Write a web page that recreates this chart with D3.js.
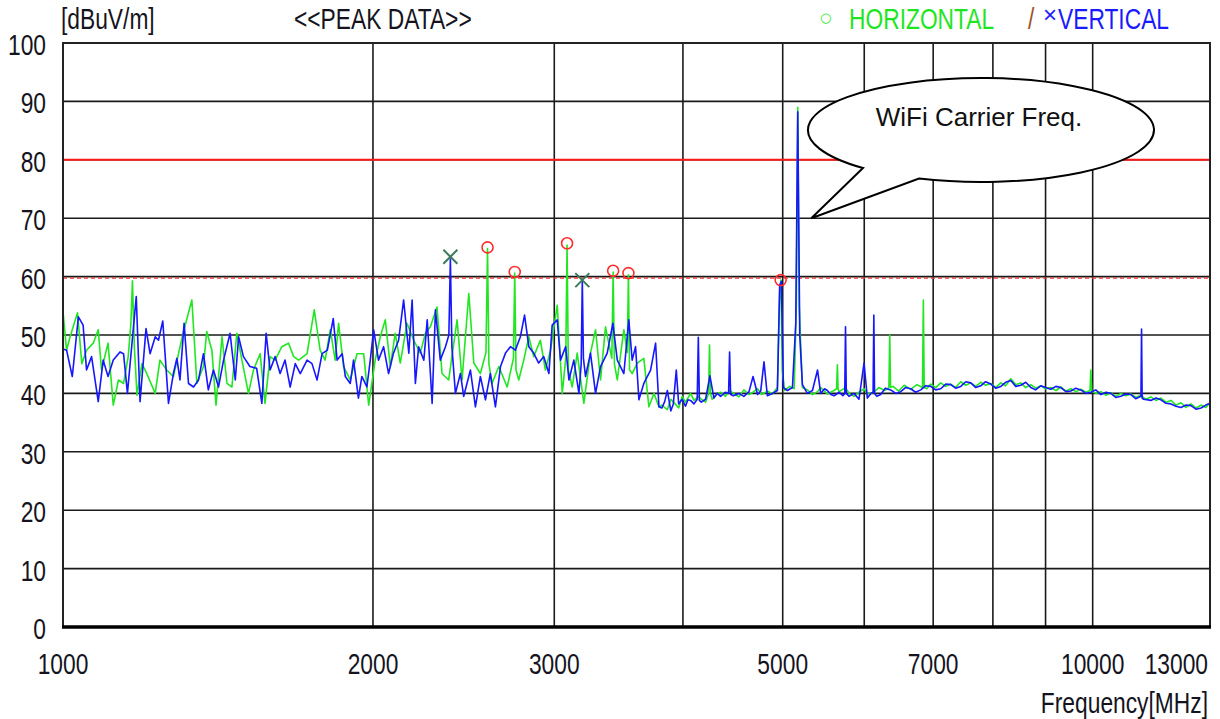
<!DOCTYPE html>
<html>
<head>
<meta charset="utf-8">
<script src="https://cdn.jsdelivr.net/npm/d3@7"></script>
<style>
  body { margin: 0; background: #fff; }
  svg { display: block; }
  text { font-family: "Liberation Sans", Arial, sans-serif; }
</style>
</head>
<body>
<svg width="1220" height="719"></svg>
<script>
// frequency ticks and level ticks
var xTicks = [1000, 2000, 3000, 5000, 7000, 10000, 13000];
var xGrid = [2000, 3000, 4000, 5000, 6000, 7000, 8000, 9000, 10000];
var yTicks = [0, 10, 20, 30, 40, 50, 60, 70, 80, 90, 100];
var limitLine = 80;   // solid red
var marginLine = 60;  // dashed red

// HORIZONTAL trace [MHz, dBuV/m]
var hTrace = [
  [1000, 54.0], [1008, 47.4], [1016, 49.7], [1033, 53.8], [1043, 45.1], [1054, 47.4], [1070, 48.6],
  [1082, 50.9], [1090, 44.0], [1106, 48.6], [1119, 38.0], [1132, 42.3], [1145, 41.7], [1157, 46.3],
  [1164, 52.0], [1168, 59.3], [1173, 48.0], [1180, 39.7], [1193, 45.1], [1206, 43.4], [1229, 40.0],
  [1242, 45.7], [1261, 44.0], [1280, 42.9], [1308, 50.3], [1334, 56.0], [1349, 41.7], [1369, 44.6],
  [1379, 50.6], [1395, 47.4], [1408, 38.0], [1427, 49.7], [1443, 41.7], [1459, 41.1], [1475, 50.3],
  [1492, 45.7], [1514, 40.0], [1531, 44.0], [1554, 46.8], [1571, 38.3], [1589, 46.3], [1607, 45.7],
  [1631, 48.0], [1656, 48.6], [1675, 46.3], [1694, 45.7], [1726, 46.8], [1754, 54.3], [1777, 47.4],
  [1797, 45.7], [1818, 50.9], [1838, 45.7], [1852, 52.0], [1873, 44.6], [1901, 42.3], [1930, 46.8],
  [1959, 46.8], [1981, 38.0], [2010, 45.7], [2033, 49.7], [2056, 52.6], [2079, 44.6], [2102, 50.3],
  [2126, 45.2], [2158, 52.0], [2191, 49.1], [2223, 46.9], [2249, 50.3], [2274, 51.4], [2308, 54.8],
  [2334, 43.4], [2369, 42.3], [2414, 52.6], [2441, 42.3], [2478, 57.1], [2506, 45.2], [2543, 43.4],
  [2575, 47.0], [2584, 64.8], [2592, 45.0], [2610, 41.7], [2650, 44.6], [2700, 41.1], [2738, 46.0],
  [2746, 60.6], [2754, 44.0], [2771, 42.3], [2802, 45.7], [2834, 49.7], [2865, 46.3], [2908, 49.1],
  [2941, 44.0], [2975, 47.4], [3020, 55.1], [3054, 40.0], [3078, 46.0], [3087, 65.4], [3096, 44.0],
  [3123, 41.1], [3158, 46.9], [3205, 38.3], [3253, 46.9], [3290, 50.9], [3327, 42.3], [3364, 51.4],
  [3412, 46.0], [3422, 60.8], [3432, 45.0], [3454, 42.3], [3505, 50.9], [3532, 47.0], [3541, 60.3],
  [3550, 44.0], [3571, 43.4], [3612, 45.2], [3665, 46.0], [3707, 37.7], [3749, 40.0], [3791, 37.7],
  [3816, 38.0], [3863, 37.2], [3893, 39.0], [3941, 38.0], [3962, 37.5], [3993, 39.5], [4023, 38.5],
  [4069, 40.0], [4100, 38.8], [4140, 39.5], [4168, 39.0], [4208, 38.5], [4236, 40.0], [4245, 48.3],
  [4254, 40.0], [4270, 39.0], [4310, 39.8], [4351, 40.2], [4400, 39.5], [4440, 40.5], [4480, 40.0],
  [4533, 39.4], [4584, 40.6], [4637, 39.8], [4679, 40.2], [4727, 40.8], [4770, 39.8], [4831, 40.4],
  [4886, 39.9], [4941, 41.0], [4966, 57.0], [4980, 59.4], [4995, 44.0], [5020, 40.5], [5080, 41.2],
  [5130, 40.8], [5155, 55.0], [5171, 89.0], [5188, 55.0], [5225, 41.0], [5284, 40.6], [5344, 39.8],
  [5405, 40.3], [5443, 41.0], [5525, 39.9], [5608, 40.5], [5640, 40.8], [5650, 44.9], [5660, 40.6],
  [5673, 40.3], [5754, 41.0], [5799, 40.0], [5865, 39.5], [5930, 40.2], [5997, 40.8], [6042, 39.9],
  [6130, 40.2], [6200, 41.0], [6280, 40.5], [6340, 41.0], [6352, 50.0], [6364, 41.0], [6400, 41.2],
  [6480, 40.4], [6560, 41.4], [6657, 40.7], [6750, 41.5], [6835, 41.0], [6848, 56.0], [6861, 41.0],
  [6900, 40.8], [6962, 41.6], [7040, 41.0], [7119, 41.8], [7200, 41.2], [7281, 41.6], [7360, 41.0],
  [7445, 42.0], [7530, 41.4], [7614, 41.8], [7700, 41.2], [7786, 41.9], [7870, 41.4], [7962, 41.7],
  [8050, 41.0], [8143, 41.8], [8230, 41.3], [8327, 42.5], [8420, 41.5], [8515, 41.8], [8610, 41.0],
  [8708, 41.5], [8800, 40.9], [8905, 41.3], [9000, 40.8], [9107, 41.0], [9210, 40.5], [9313, 41.1],
  [9420, 40.4], [9524, 40.8], [9630, 40.3], [9739, 40.7], [9850, 40.2], [9940, 40.5], [9959, 44.0],
  [9978, 40.4], [10070, 40.0], [10186, 40.3], [10300, 39.7], [10416, 40.1], [10530, 39.5], [10651, 40.0],
  [10770, 39.6], [10891, 39.9], [11010, 39.3], [11138, 39.7], [11260, 39.0], [11390, 39.4], [11520, 38.8],
  [11649, 39.2], [11780, 38.5], [11912, 38.8], [12050, 38.0], [12182, 38.4], [12320, 37.6], [12458, 38.2],
  [12600, 37.5], [12741, 38.0], [12880, 37.6], [13000, 38.4]
];

// VERTICAL trace [MHz, dBuV/m]
var vTrace = [
  [1000, 47.6], [1008, 47.4], [1021, 42.9], [1035, 53.1], [1046, 51.7], [1054, 44.0], [1066, 46.3],
  [1082, 38.6], [1094, 45.7], [1106, 42.9], [1119, 45.7], [1136, 47.1], [1145, 46.8], [1155, 40.0],
  [1166, 48.0], [1178, 56.6], [1188, 38.6], [1204, 51.1], [1215, 46.8], [1229, 49.7], [1238, 49.1],
  [1250, 52.4], [1266, 38.3], [1280, 43.4], [1290, 46.0], [1299, 42.3], [1311, 52.0], [1324, 41.7],
  [1339, 41.1], [1354, 42.3], [1369, 46.8], [1384, 40.6], [1400, 44.0], [1416, 41.1], [1432, 45.7],
  [1453, 50.3], [1470, 42.3], [1481, 49.7], [1497, 46.3], [1519, 44.6], [1542, 44.3], [1560, 38.3],
  [1575, 50.3], [1589, 44.0], [1607, 46.3], [1625, 43.4], [1643, 45.7], [1662, 41.1], [1681, 45.1],
  [1700, 43.4], [1726, 45.7], [1745, 45.1], [1765, 42.3], [1785, 46.8], [1806, 47.4], [1830, 52.8],
  [1846, 45.7], [1867, 46.8], [1880, 42.9], [1901, 41.7], [1915, 45.7], [1936, 39.2], [1951, 42.9],
  [1973, 41.1], [1988, 45.7], [2003, 50.9], [2025, 45.7], [2048, 48.0], [2071, 43.4], [2094, 46.9],
  [2118, 49.1], [2142, 56.0], [2167, 46.9], [2183, 56.0], [2199, 41.7], [2215, 48.0], [2241, 45.7],
  [2258, 52.6], [2283, 38.3], [2300, 54.3], [2325, 45.7], [2352, 48.0], [2370, 50.0], [2378, 63.0],
  [2386, 48.0], [2405, 40.0], [2432, 43.4], [2450, 39.5], [2487, 44.0], [2515, 37.7], [2543, 42.9],
  [2572, 38.9], [2600, 43.4], [2630, 37.7], [2660, 44.6], [2690, 46.9], [2720, 48.0], [2750, 47.4],
  [2781, 49.7], [2807, 53.4], [2834, 48.0], [2865, 46.9], [2897, 45.2], [2930, 46.3], [2964, 43.4],
  [2986, 51.7], [3020, 52.6], [3042, 45.7], [3077, 48.0], [3100, 42.3], [3134, 45.7], [3170, 40.0],
  [3186, 45.0], [3194, 59.4], [3202, 46.0], [3217, 42.9], [3253, 46.9], [3290, 40.0], [3327, 44.6],
  [3377, 46.9], [3420, 52.0], [3454, 45.7], [3505, 43.4], [3544, 52.6], [3571, 45.7], [3598, 48.0],
  [3625, 38.9], [3665, 41.7], [3721, 44.0], [3763, 48.6], [3791, 37.7], [3816, 37.5], [3840, 38.6],
  [3863, 40.5], [3893, 37.0], [3915, 38.2], [3941, 44.0], [3962, 38.2], [3993, 39.0], [4023, 37.8],
  [4045, 38.9], [4069, 38.8], [4100, 38.2], [4130, 39.0], [4140, 49.6], [4150, 38.8], [4168, 38.5],
  [4208, 39.0], [4249, 43.0], [4287, 39.2], [4320, 40.0], [4351, 39.5], [4400, 40.2], [4430, 40.0],
  [4440, 47.1], [4450, 39.8], [4477, 39.6], [4533, 40.0], [4584, 39.5], [4637, 40.3], [4679, 42.9],
  [4727, 39.8], [4760, 40.4], [4795, 45.4], [4831, 39.6], [4886, 40.0], [4941, 40.5], [4966, 58.5],
  [4985, 59.2], [5008, 41.0], [5053, 40.5], [5110, 41.0], [5148, 52.0], [5171, 88.2], [5194, 50.0],
  [5225, 41.5], [5284, 40.0], [5344, 40.5], [5405, 44.0], [5443, 40.0], [5490, 40.8], [5525, 40.5],
  [5570, 39.8], [5608, 39.6], [5673, 40.2], [5720, 39.6], [5744, 40.0], [5754, 51.4], [5764, 40.0],
  [5799, 39.5], [5865, 40.0], [5930, 39.0], [5997, 45.2], [6042, 39.2], [6090, 40.0], [6120, 40.2],
  [6130, 53.4], [6140, 40.0], [6171, 39.5], [6224, 39.8], [6290, 40.9], [6365, 40.6], [6440, 40.0],
  [6510, 40.3], [6580, 41.0], [6657, 40.8], [6730, 40.2], [6808, 40.6], [6880, 41.3], [6962, 41.2],
  [7040, 40.6], [7119, 40.8], [7200, 41.6], [7281, 41.5], [7360, 40.9], [7445, 41.2], [7530, 42.0],
  [7614, 41.8], [7700, 41.0], [7786, 41.3], [7870, 42.0], [7962, 41.6], [8050, 40.9], [8143, 41.2],
  [8230, 41.9], [8327, 42.2], [8420, 41.2], [8515, 41.4], [8610, 41.9], [8708, 41.0], [8800, 40.6],
  [8905, 41.3], [9000, 41.0], [9107, 40.7], [9210, 41.2], [9313, 41.0], [9420, 40.3], [9524, 40.4],
  [9630, 40.9], [9739, 40.6], [9850, 40.0], [9959, 40.2], [10070, 40.6], [10186, 39.8], [10300, 40.2],
  [10416, 40.0], [10530, 39.3], [10651, 39.5], [10770, 39.9], [10891, 39.8], [11010, 39.1], [11140, 39.5],
  [11155, 51.0], [11170, 39.2], [11210, 39.0], [11390, 38.8], [11520, 39.2], [11649, 38.9], [11780, 38.3],
  [11912, 38.2], [12050, 37.8], [12182, 37.6], [12320, 38.0], [12458, 37.9], [12600, 37.3], [12741, 37.5],
  [12880, 38.0], [13000, 38.3]
];

// marked peaks
var hPeaks = [[2584, 65.0], [2746, 60.8], [3087, 65.7], [3422, 61.0], [3541, 60.6], [4977, 59.4]];
var vPeaks = [[2378, 63.4], [3194, 59.4]];

var svg = d3.select("svg"),
    plotL = 63, plotR = 1210, plotT = 43, plotB = 627,
    sx = 0.76;

var x = d3.scaleLog().domain([1000, 13000]).range([plotL, plotR]);
var y = d3.scaleLinear().domain([0, 100]).range([plotB, plotT]);

function label(px, py, txt, anchor, color, size, scaleX) {
    return svg.append("text")
        .attr("transform", "translate(" + px + "," + py + ") scale(" + (scaleX || sx) + ",1)")
        .attr("text-anchor", anchor || "start")
        .attr("fill", color || "#141420")
        .attr("font-size", size || 30)
        .text(txt);
}

// grid
var grid = svg.append("g").attr("stroke", "#1a1a1a").attr("stroke-width", 1.6);
grid.selectAll(".gx").data(xGrid).enter().append("line")
    .attr("x1", function (d) { return x(d); }).attr("x2", function (d) { return x(d); })
    .attr("y1", plotT).attr("y2", plotB);
grid.selectAll(".gy").data(yTicks.slice(1, -1)).enter().append("line")
    .attr("x1", plotL).attr("x2", plotR)
    .attr("y1", function (d) { return y(d); }).attr("y2", function (d) { return y(d); });

// limit lines
svg.append("line")
    .attr("x1", plotL).attr("x2", plotR).attr("y1", y(limitLine)).attr("y2", y(limitLine))
    .attr("stroke", "#ff1a1a").attr("stroke-width", 2);
svg.append("line")
    .attr("x1", plotL).attr("x2", plotR).attr("y1", y(marginLine) + 1.5).attr("y2", y(marginLine) + 1.5)
    .attr("stroke", "#ff3030").attr("stroke-width", 1.4).attr("stroke-dasharray", "4,3");

// traces
var line = d3.line()
    .x(function (d) { return x(d[0]); })
    .y(function (d) { return y(d[1]); });

svg.append("path").datum(hTrace)
    .attr("d", line).attr("fill", "none")
    .attr("stroke", "#22e622").attr("stroke-width", 1.6).attr("stroke-linejoin", "round");
svg.append("path").datum(vTrace)
    .attr("d", line).attr("fill", "none")
    .attr("stroke", "#1616ff").attr("stroke-width", 1.6).attr("stroke-linejoin", "round");

// peak markers
svg.selectAll(".hp").data(hPeaks).enter().append("circle")
    .attr("cx", function (d) { return x(d[0]); })
    .attr("cy", function (d) { return y(d[1]); })
    .attr("r", 5.5).attr("fill", "none").attr("stroke", "#ff2a2a").attr("stroke-width", 1.6);

svg.selectAll(".vp").data(vPeaks).enter().append("path")
    .attr("transform", function (d) { return "translate(" + x(d[0]) + "," + y(d[1]) + ")"; })
    .attr("d", "M-7,-7L7,7M-7,7L7,-7")
    .attr("stroke", "#3d7a5c").attr("stroke-width", 2).attr("fill", "none");

// frame
svg.append("rect")
    .attr("x", plotL).attr("y", plotT).attr("width", plotR - plotL).attr("height", plotB - plotT)
    .attr("fill", "none").attr("stroke", "#222").attr("stroke-width", 2);
svg.append("line")
    .attr("x1", plotL - 1).attr("x2", plotR + 1).attr("y1", plotB).attr("y2", plotB)
    .attr("stroke", "#000").attr("stroke-width", 3.5);

// axis labels
yTicks.forEach(function (d) {
    label(46, y(d) + 12, d, "end");
});
xTicks.forEach(function (d) {
    if (d === 13000) label(plotR - 2, 674, d, "end");
    else label(x(d), 674, d, "middle");
});
label(plotR - 2, 713, "Frequency[MHz]", "end");
label(61, 29, "[dBuV/m]");
label(294, 29, "<<PEAK DATA>>");

// legend
label(820, 22, "\u25CB", "start", "#22e622", 13, 1).style("font-family", "DejaVu Sans");
label(849, 29, "HORIZONTAL", "start", "#1ee61e");
label(1028, 29, "/", "start", "#a0522d");
label(1043, 23, "\u00D7", "start", "#2020ff", 24, 1);
label(1058, 29, "VERTICAL", "start", "#1a1aff");

// callout
var cx = x(7790), cy = y(85.1), rx = 173, ry = 52;
var tip = [x(5330), y(70)];
function onEllipse(deg) {
    var a = deg * Math.PI / 180;
    return [cx + rx * Math.cos(a), cy + ry * Math.sin(a)];
}
var p1 = onEllipse(133), p2 = onEllipse(111);
svg.append("path")
    .attr("d", "M" + p2 + "A" + rx + "," + ry + " 0 1 0 " + p1 + "L" + tip + "Z")
    .attr("fill", "#fff").attr("stroke", "#000").attr("stroke-width", 2).attr("stroke-linejoin", "miter");
svg.append("text")
    .attr("x", cx - 2).attr("y", cy - 4)
    .attr("text-anchor", "middle")
    .attr("font-size", 26)
    .attr("fill", "#111")
    .text("WiFi Carrier Freq.");
</script>
</body>
</html>
